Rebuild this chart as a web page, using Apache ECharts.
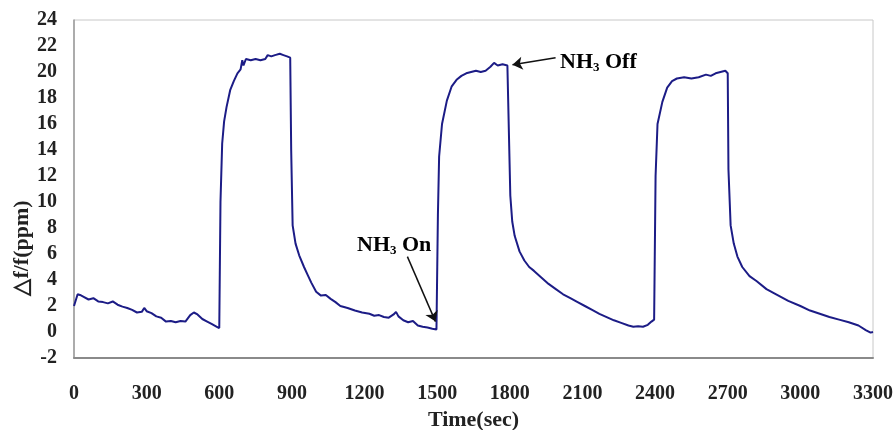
<!DOCTYPE html>
<html>
<head>
<meta charset="utf-8">
<script src="https://cdn.jsdelivr.net/npm/echarts@6/dist/echarts.min.js"></script>
<style>
  html, body { margin: 0; padding: 0; background: #fff; }
  #chart { width: 894px; height: 430px; }
</style>
</head>
<body>
<div id="chart"></div>
<script>
// time (sec) and response (ppm)
let times = [
  0, 8, 15, 25, 40, 60, 80, 100, 120, 140, 160, 180, 200, 220, 240, 260, 280, 290, 300, 320,
  340, 360, 380, 400, 420, 440, 460, 480, 495, 510, 530, 550, 570, 590, 598,
  600, 605, 612, 620, 630, 645, 660, 675, 688, 695, 700, 710, 730, 750, 770, 790, 800, 815,
  830, 850, 865, 880, 893,
  897, 903, 915, 930, 950, 965, 980, 1000, 1020, 1040, 1060, 1080, 1100, 1130, 1160, 1190,
  1220, 1240, 1260, 1280, 1300, 1320, 1330, 1340, 1360, 1380, 1400, 1420, 1440, 1460, 1480, 1497,
  1500, 1503, 1508, 1520, 1540, 1560, 1580, 1600, 1620, 1640, 1660, 1680, 1700, 1720, 1735,
  1750, 1770, 1790, 1798,
  1800, 1802, 1810, 1820, 1840, 1860, 1880, 1900, 1930, 1960, 1990, 2020, 2050, 2080, 2110,
  2140, 2170, 2200, 2230, 2260, 2290, 2310, 2330, 2350, 2370, 2385, 2396,
  2400, 2402, 2410, 2430, 2450, 2470, 2490, 2520, 2550, 2580, 2610, 2630, 2650, 2670, 2690, 2697,
  2700, 2703, 2712, 2725, 2740, 2760, 2790, 2820, 2860, 2900, 2950, 3000, 3040, 3080, 3120,
  3160, 3200, 3240, 3270, 3290, 3300
];
let values = [
  2.0, 2.1, 2.9, 2.85, 2.7, 2.5, 2.6, 2.35, 2.3, 2.2, 2.35, 2.1, 1.95, 1.85, 1.7, 1.5, 1.55, 1.85, 1.6, 1.45,
  1.2, 1.1, 0.8, 0.85, 0.75, 0.85, 0.8, 1.3, 1.5, 1.35, 1.0, 0.8, 0.6, 0.4, 0.25,
  0.3, 10, 14.5, 16.2, 17.3, 18.6, 19.3, 19.9, 20.2, 20.9, 20.5, 21.0, 20.9, 21.0, 20.9, 21.0, 21.3, 21.2,
  21.3, 21.4, 21.3, 21.2, 21.1,
  14, 8.2, 6.8, 5.9, 5.0, 4.4, 3.8, 3.1, 2.8, 2.85, 2.55, 2.3, 2.0, 1.85, 1.65, 1.5,
  1.4, 1.25, 1.3, 1.15, 1.1, 1.35, 1.55, 1.2, 0.9, 0.75, 0.85, 0.5, 0.4, 0.35, 0.25, 0.2,
  0.2, 9, 13.5, 16.0, 17.8, 18.9, 19.4, 19.7, 19.9, 20.0, 20.1, 20.0, 20.1, 20.4, 20.7,
  20.5, 20.6, 20.5, 20.5,
  20.5, 10.5, 8.5, 7.4, 6.2, 5.5, 5.0, 4.7, 4.2, 3.7, 3.3, 2.9, 2.6, 2.3, 2.0,
  1.7, 1.4, 1.15, 0.9, 0.7, 0.5, 0.4, 0.45, 0.4, 0.55, 0.8, 0.95,
  0.95, 12, 16.0, 17.7, 18.8, 19.3, 19.5, 19.6, 19.5, 19.6, 19.8, 19.7, 19.9, 20.0, 20.1, 20.1,
  19.9, 12.5, 8.2, 6.8, 5.8, 5.0, 4.3, 3.9, 3.3, 2.9, 2.4, 2.0, 1.65, 1.4, 1.15,
  0.95, 0.75, 0.5, 0.15, -0.05, 0.0
];
let xTicks = [0, 300, 600, 900, 1200, 1500, 1800, 2100, 2400, 2700, 3000, 3300];
let yTicks = [-2, 0, 2, 4, 6, 8, 10, 12, 14, 16, 18, 20, 22, 24];

// arrows [from, to] in data coords
let onArrow = [[1377, 5.8], [1493, 0.8]];
let offArrow = [[1989, 21.1], [1811, 20.55]];

let points = times.map((t, i) => [t, values[i]]);

let myChart = echarts.init(document.getElementById('chart'));
let serif = '"Liberation Serif", "Times New Roman", serif';
let subText = {
  a: { fontFamily: serif, fontWeight: 'bold', fontSize: 22, color: '#222' },
  s: { fontFamily: serif, fontWeight: 'bold', fontSize: 13, color: '#222', padding: [12, 0, 0, 0] }
};

option = {
  animation: false,
  grid: {
    left: 74, right: 21, top: 20, bottom: 72,
    outerBoundsMode: 'none',
    containLabel: false,
    show: true, borderColor: '#c8c8c8', borderWidth: 1
  },
  xAxis: {
    type: 'value',
    min: 0, max: 3300, interval: 300,
    name: 'Time(sec)',
    nameLocation: 'middle',
    nameGap: 50,
    nameTextStyle: { fontFamily: serif, fontWeight: 'bold', fontSize: 22, color: '#222' },
    axisLine: { show: true, onZero: false, lineStyle: { color: '#8a8a8a', width: 2 } },
    axisTick: { show: false },
    splitLine: { show: false },
    axisLabel: {
      margin: 26, fontFamily: serif, fontWeight: 'bold', fontSize: 20, color: '#222',
      formatter: v => xTicks.includes(v) ? String(v) : ''
    }
  },
  yAxis: {
    type: 'value',
    min: -2, max: 24, interval: 2,
    axisLine: { show: true, onZero: false, lineStyle: { color: '#9a9a9a', width: 1.5 } },
    axisTick: { show: false },
    splitLine: { show: false },
    axisLabel: {
      margin: 17, fontFamily: serif, fontWeight: 'bold', fontSize: 20, color: '#222',
      formatter: v => yTicks.includes(v) ? String(v) : ''
    }
  },
  graphic: [
    {
      type: 'text', x: 22, y: 248, rotation: Math.PI / 2,
      style: {
        text: '\u25B3f/f(ppm)', fontFamily: serif, fontWeight: 'bold', fontSize: 22,
        fill: '#222', align: 'center', verticalAlign: 'middle'
      }
    },
    {
      type: 'text', x: 357, y: 245,
      style: {
        text: '{a|NH}{s|3}{a| On}', rich: subText, verticalAlign: 'middle'
      }
    },
    {
      type: 'text', x: 560, y: 62,
      style: {
        text: '{a|NH}{s|3}{a| Off}', rich: subText, verticalAlign: 'middle'
      }
    }
  ],
  series: [
    {
      type: 'line',
      data: points,
      showSymbol: false,
      lineStyle: { color: '#1c1c86', width: 2 },
      markLine: {
        silent: true,
        symbol: ['none', 'arrow'],
        symbolSize: 10,
        label: { show: false },
        lineStyle: { color: '#111', width: 1.5, type: 'solid' },
        data: [
          [{ coord: onArrow[0] }, { coord: onArrow[1] }],
          [{ coord: offArrow[0] }, { coord: offArrow[1] }]
        ]
      }
    }
  ]
};
myChart.setOption(option);
</script>
</body>
</html>
